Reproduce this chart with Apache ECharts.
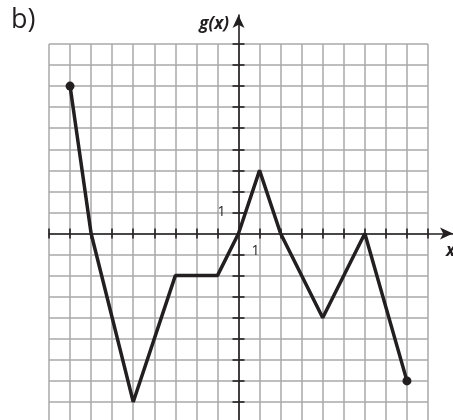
<!DOCTYPE html>
<html><head><meta charset="utf-8">
<script src="https://cdn.jsdelivr.net/npm/echarts@6/dist/echarts.min.js"></script>
<style>html,body{margin:0;padding:0;background:#fff}#c{width:453px;height:420px}</style>
</head><body><div id="c"></div>
<script>
// ---- data ----
const xValues = [-8, -7, -5, -3, -1, 0, 1, 2, 4, 6, 8];
const gValues = [7, 0, -8, -2, -2, 0, 3, 0, -4, 0, -7];
const xRange = [-9, 9];
const yRange = [-9, 9];
const tickValues = [-9, -8, -7, -6, -5, -4, -3, -2, -1, 1, 2, 3, 4, 5, 6, 7, 8, 9];
const xLabelValues = [1];
const yLabelValues = [1];
const panelLabel = 'b)';
const yName = 'g(x)';
const xName = 'x';

// ---- layout ----
const W = 453, H = 420;
const gLeft = 49, gRight = 25, gTop = 44, gBottom = -3;
const unit = (H - gTop - gBottom) / (yRange[1] - yRange[0]);
const axTop = 15;
const xMax1 = xRange[0] + (W - gLeft) / unit;
const yMax1 = yRange[0] + (H - axTop - gBottom) / unit;
const zeroX = gLeft + (0 - xRange[0]) * unit;
const zeroY = gTop + (yRange[1] - 0) * unit;

const ink = '#231f20';
const gridCol = '#a9a9a9';
const font = "'Open Sans', sans-serif";

const chart = echarts.init(document.getElementById('c'), null, {renderer: 'canvas'});
const pts = xValues.map((x, i) => [x, gValues[i]]);
const last = pts.length - 1;

const axisLineStyle = {color: ink, width: 1.6};
const hidden = {axisLine: {show: false}, axisTick: {show: false}, splitLine: {show: false}};
chart.setOption({
  animation: false,
  backgroundColor: '#fff',
  grid: [
    {left: gLeft, right: gRight, top: gTop, bottom: gBottom, outerBoundsMode: 'none', containLabel: false},
    {left: gLeft, right: 0, top: axTop, bottom: gBottom, outerBoundsMode: 'none', containLabel: false},
    // quadrant grid used only to place the "1" tick labels next to the axes
    {left: zeroX, right: gRight, top: gTop, bottom: H - zeroY, outerBoundsMode: 'none', containLabel: false}
  ],
  xAxis: [
    {gridIndex: 0, type: 'value', min: xRange[0], max: xRange[1], interval: 1,
     axisLine: {show: false}, axisTick: {show: false}, axisLabel: {show: false},
     splitLine: {show: true, lineStyle: {color: gridCol, width: 1.5}}},
    {gridIndex: 1, type: 'value', min: xRange[0], max: xMax1, interval: 1, position: 'bottom',
     axisLine: {show: true, onZero: true, onZeroAxisIndex: 1, lineStyle: axisLineStyle,
                symbol: ['none', 'arrow'], symbolSize: [9, 13]},
     axisTick: {show: true, customValues: tickValues, length: 5, lineStyle: axisLineStyle},
     axisLabel: {show: false}, splitLine: {show: false}},
    {gridIndex: 1, type: 'value', min: xRange[0], max: xMax1, interval: 1, position: 'top',
     axisLine: {show: true, onZero: true, onZeroAxisIndex: 1, lineStyle: {color: ink, width: 1.6, opacity: 0}},
     axisTick: {show: true, customValues: tickValues, length: 5, lineStyle: axisLineStyle},
     axisLabel: {show: false}, splitLine: {show: false}},
    Object.assign({gridIndex: 2, type: 'value', min: 0, max: xRange[1], interval: 1, position: 'bottom',
     axisLabel: {show: true, customValues: xLabelValues, margin: 11, color: ink, fontSize: 14,
                 fontFamily: font, padding: [0, 8, 0, 0]}}, hidden)
  ],
  yAxis: [
    {gridIndex: 0, type: 'value', min: yRange[0], max: yRange[1], interval: 1,
     axisLine: {show: false}, axisTick: {show: false}, axisLabel: {show: false},
     splitLine: {show: true, lineStyle: {color: gridCol, width: 1.5}}},
    {gridIndex: 1, type: 'value', min: yRange[0], max: yMax1, interval: 1, position: 'left',
     axisLine: {show: true, onZero: true, onZeroAxisIndex: 1, lineStyle: axisLineStyle,
                symbol: ['none', 'arrow'], symbolSize: [9, 13]},
     axisTick: {show: true, customValues: tickValues, length: 6, lineStyle: axisLineStyle},
     axisLabel: {show: false}, splitLine: {show: false}},
    {gridIndex: 1, type: 'value', min: yRange[0], max: yMax1, interval: 1, position: 'right',
     axisLine: {show: true, onZero: true, onZeroAxisIndex: 1, lineStyle: {color: ink, width: 1.6, opacity: 0}},
     axisTick: {show: true, customValues: tickValues, length: 6, lineStyle: axisLineStyle},
     axisLabel: {show: false}, splitLine: {show: false}},
    Object.assign({gridIndex: 2, type: 'value', min: 0, max: yRange[1], interval: 1, position: 'left',
     axisLabel: {show: true, customValues: yLabelValues, margin: 13, color: ink, fontSize: 14,
                 fontFamily: font}}, hidden)
  ],
  graphic: [
    {type: 'text', left: 11, top: 7, style: {text: panelLabel, fill: ink, font: "27px 'Open Sans', sans-serif"}},
    {type: 'text', x: 229, y: 24, style: {text: yName, fill: ink, textAlign: 'right', textVerticalAlign: 'middle',
      font: "italic bold 17px 'Open Sans', sans-serif"}},
    {type: 'text', x: 446, y: 251, style: {text: xName, fill: ink, textAlign: 'left', textVerticalAlign: 'middle',
      font: "italic bold 17px 'Open Sans', sans-serif"}}
  ],
  series: [{
    type: 'line', xAxisIndex: 0, yAxisIndex: 0, data: pts,
    lineStyle: {color: ink, width: 3.5}, itemStyle: {color: ink},
    symbol: 'circle',
    symbolSize: (v, p) => (p.dataIndex === 0 || p.dataIndex === last) ? 9 : 0,
    z: 10
  }]
});
</script></body></html>
